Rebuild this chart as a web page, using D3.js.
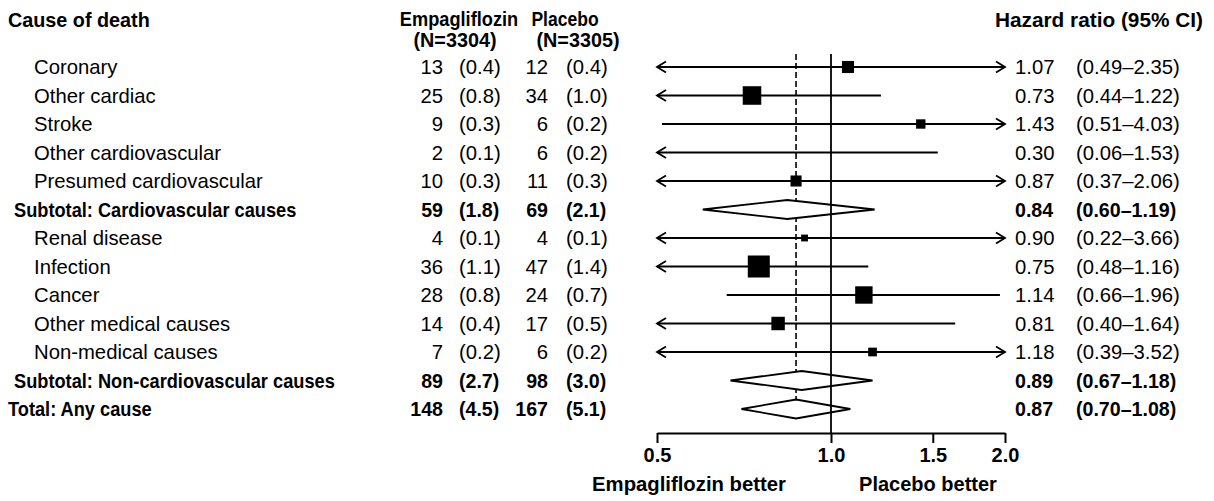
<!DOCTYPE html>
<html>
<head>
<meta charset="utf-8">
<script src="https://cdn.jsdelivr.net/npm/d3@7"></script>
<style>
  html, body { margin: 0; padding: 0; background: #fff; }
  svg { display: block; font-family: "Liberation Sans", Arial, sans-serif; }
</style>
</head>
<body>
<svg id="chart" width="1214" height="501"></svg>
<script>
// ---- data ----
const causes = ["Coronary", "Other cardiac", "Stroke", "Other cardiovascular", "Presumed cardiovascular",
  "Subtotal: Cardiovascular causes", "Renal disease", "Infection", "Cancer", "Other medical causes",
  "Non-medical causes", "Subtotal: Non-cardiovascular causes", "Total: Any cause"];
const rowType = ["item","item","item","item","item","subtotal","item","item","item","item","item","subtotal","total"];
const empaN   = [13, 25, 9, 2, 10, 59, 4, 36, 28, 14, 7, 89, 148];
const empaPct = [0.4, 0.8, 0.3, 0.1, 0.3, 1.8, 0.1, 1.1, 0.8, 0.4, 0.2, 2.7, 4.5];
const placN   = [12, 34, 6, 6, 11, 69, 4, 47, 24, 17, 6, 98, 167];
const placPct = [0.4, 1.0, 0.2, 0.2, 0.3, 2.1, 0.1, 1.4, 0.7, 0.5, 0.2, 3.0, 5.1];
const hr      = [1.07, 0.73, 1.43, 0.30, 0.87, 0.84, 0.90, 0.75, 1.14, 0.81, 1.18, 0.89, 0.87];
const ciLow   = [0.49, 0.44, 0.51, 0.06, 0.37, 0.60, 0.22, 0.48, 0.66, 0.40, 0.39, 0.67, 0.70];
const ciHigh  = [2.35, 1.22, 4.03, 1.53, 2.06, 1.19, 3.66, 1.16, 1.96, 1.64, 3.52, 1.18, 1.08];
const xTicks  = [0.5, 1.0, 1.5, 2.0];
const overallHR = 0.87;

const svg = d3.select("#chart");
const FS_REG = 20.3, FS_BOLD = 19.6, BOLD_SX = 0.93;
const x = d3.scaleLog().domain([0.5, 2.0]).range([657, 1005]);
const y = d3.scaleLinear().domain([0, causes.length - 1]).range([67, 409]);
const boxSize = d3.scaleSqrt().domain([0, 83]).range([0, 22]);
const fmt1 = d3.format(".1f"), fmt2 = d3.format(".2f");
const isBold = i => rowType[i] !== "item";
const labelX = i => rowType[i] === "item" ? 34 : (rowType[i] === "subtotal" ? 14 : 8);

// headers
const hdr = svg.append("g").attr("font-weight", "bold");
function hText(tx, ty, size, sx, anchor, txt) {
  hdr.append("text").attr("transform", `translate(${tx},${ty}) scale(${sx},1)`)
    .attr("font-size", size).attr("text-anchor", anchor).text(txt);
}
hText(8, 27, 19.8, 1, "start", "Cause of death");
hText(459, 26, 19.8, 0.92, "middle", "Empagliflozin");
hText(455, 47, 19.8, 1, "middle", "(N=3304)");
hText(565, 26, 19.8, 0.885, "middle", "Placebo");
hText(578, 47, 19.8, 1, "middle", "(N=3305)");
hText(1203, 27, 20.8, 1, "end", "Hazard ratio (95% CI)");

// table rows
const rows = svg.append("g").selectAll("g").data(causes).join("g")
  .attr("transform", (d, i) => `translate(0,${y(i)})`)
  .attr("font-weight", (d, i) => isBold(i) ? "bold" : "normal")
  .attr("font-size", (d, i) => isBold(i) ? FS_BOLD : FS_REG);
rows.append("text")
  .attr("transform", (d, i) => `translate(${labelX(i)},0) scale(${isBold(i) ? BOLD_SX : 1},1)`)
  .attr("dy", "0.36em").text(d => d);
rows.append("text").attr("x", 443).attr("dy", "0.36em").attr("text-anchor", "end").text((d, i) => empaN[i]);
rows.append("text").attr("x", 459).attr("dy", "0.36em").text((d, i) => `(${fmt1(empaPct[i])})`);
rows.append("text").attr("x", 548).attr("dy", "0.36em").attr("text-anchor", "end").text((d, i) => placN[i]);
rows.append("text").attr("x", 566).attr("dy", "0.36em").text((d, i) => `(${fmt1(placPct[i])})`);
rows.append("text").attr("x", 1015).attr("dy", "0.36em").text((d, i) => fmt2(hr[i]));
rows.append("text").attr("x", 1076).attr("dy", "0.36em").text((d, i) => `(${fmt2(ciLow[i])}\u2013${fmt2(ciHigh[i])})`);

// plot
const plot = svg.append("g");
const [dMin, dMax] = x.domain();
const totalIdx = causes.length - 1;
const SW = 1.8;

// dashed overall line
plot.append("line")
  .attr("x1", x(overallHR)).attr("x2", x(overallHR))
  .attr("y1", 54).attr("y2", y(totalIdx))
  .attr("stroke", "#000").attr("stroke-width", 1.6).attr("stroke-dasharray", "6,3");

// CI lines and arrows
causes.forEach((c, i) => {
  if (rowType[i] !== "item") return;
  const yy = y(i);
  const lo = Math.max(ciLow[i], dMin), hi = Math.min(ciHigh[i], dMax);
  plot.append("line").attr("x1", x(lo)).attr("x2", x(hi)).attr("y1", yy).attr("y2", yy)
    .attr("stroke", "#000").attr("stroke-width", SW);
  if (ciLow[i] < dMin) {
    const ax = x(dMin);
    plot.append("path").attr("d", `M${ax + 9},${yy - 5.5}L${ax},${yy}L${ax + 9},${yy + 5.5}`)
      .attr("fill", "none").attr("stroke", "#000").attr("stroke-width", SW);
  }
  if (ciHigh[i] > dMax) {
    const ax = x(dMax);
    plot.append("path").attr("d", `M${ax - 9},${yy - 5.5}L${ax},${yy}L${ax - 9},${yy + 5.5}`)
      .attr("fill", "none").attr("stroke", "#000").attr("stroke-width", SW);
  }
  if (hr[i] >= dMin && hr[i] <= dMax) {
    const s = boxSize(empaN[i] + placN[i]);
    plot.append("rect").attr("x", x(hr[i]) - s / 2).attr("y", yy - s / 2)
      .attr("width", s).attr("height", s).attr("fill", "#000");
  }
});

// diamonds
causes.forEach((c, i) => {
  if (rowType[i] === "item") return;
  const yy = y(i), h = 9.5;
  plot.append("path")
    .attr("d", `M${x(ciLow[i])},${yy}L${x(hr[i])},${yy - h}L${x(ciHigh[i])},${yy}L${x(hr[i])},${yy + h}Z`)
    .attr("fill", "#fff").attr("stroke", "#000").attr("stroke-width", SW);
});

// reference line at 1
plot.append("line").attr("x1", x(1)).attr("x2", x(1)).attr("y1", 54).attr("y2", 433)
  .attr("stroke", "#000").attr("stroke-width", SW);

// axis
const axisG = svg.append("g").attr("transform", "translate(0,433)")
  .call(d3.axisBottom(x).tickValues(xTicks).tickFormat(d3.format(".1f")).tickSize(10).tickSizeOuter(0));
axisG.select(".domain").attr("stroke", "#000").attr("stroke-width", 2);
axisG.selectAll(".tick line").attr("stroke", "#000").attr("stroke-width", 2);
axisG.selectAll(".tick text").attr("fill", "#000").attr("font-size", 20).attr("font-weight", "bold")
  .attr("font-family", "Liberation Sans, Arial, sans-serif").attr("y", 15);

svg.append("text").attr("x", 689).attr("y", 491).attr("text-anchor", "middle")
  .attr("font-size", 20.3).attr("font-weight", "bold").text("Empagliflozin better");
svg.append("text").attr("x", 928).attr("y", 491).attr("text-anchor", "middle")
  .attr("font-size", 20).attr("font-weight", "bold").text("Placebo better");
</script>
</body>
</html>
